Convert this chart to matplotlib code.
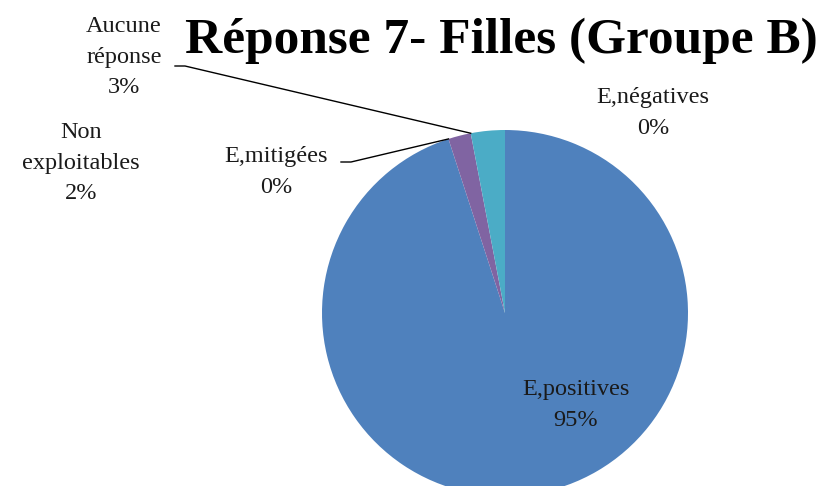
import numpy as np
import matplotlib
matplotlib.use("Agg")
import matplotlib.pyplot as plt
from matplotlib.lines import Line2D

categories = ["E,positives", "E,négatives", "E,mitigées", "Non\nexploitables", "Aucune\nréponse"]
values = [95, 0, 0, 2, 3]
pct_labels = ["95%", "0%", "0%", "2%", "3%"]
colors = ["#4F81BD", "#C0504D", "#9BBB59", "#8064A2", "#4BACC6"]
title = "Réponse 7- Filles (Groupe B)"

W, H = 824, 486
fig = plt.figure(figsize=(W / 100, H / 100), dpi=100)
fig.patch.set_facecolor("white")

# pie placement in pixels (from top-left)
cx, cy, R = 505, 313, 183
ax = fig.add_axes([(cx - R) / W, (H - cy - R) / H, 2 * R / W, 2 * R / H])
wedges, _ = ax.pie(values, colors=colors, startangle=90, counterclock=False,
                   radius=1.0, wedgeprops=dict(linewidth=0))
ax.set_xlim(-1, 1)
ax.set_ylim(-1, 1)
ax.set_aspect("equal")
ax.axis("off")

serif = ["Liberation Serif", "DejaVu Serif"]
fs = 17.5

def figpx(x, y):
    return (x / W, (H - y) / H)

label_pos = {
    0: (576, 405),
    1: (653, 113),
    2: (276, 172),
    3: (81, 163),
    4: (124, 57),
}
for i, (cat, p) in enumerate(zip(categories, pct_labels)):
    x, y = label_pos[i]
    fig.text(*figpx(x, y), f"{cat}\n{p}", ha="center", va="center",
             fontsize=fs, family=serif, linespacing=1.6, color="#1a1a1a")

# leader lines to wedge edges
def edge_at(theta_deg):
    th = np.deg2rad(theta_deg)
    return cx + R * np.cos(th), cy - R * np.sin(th)

w_aucune = wedges[4]
w_mit = wedges[2]
leaders = [
    ((175, 66), max(w_aucune.theta1, w_aucune.theta2)),
    ((341, 162), w_mit.theta1),
]
for (lx, ly), th in leaders:
    ex, ey = edge_at(th)
    xs = [lx, lx + 10, ex]
    ys = [ly, ly, ey]
    fig.add_artist(Line2D([x / W for x in xs], [(H - y) / H for y in ys],
                          color="black", linewidth=1.0, transform=fig.transFigure))

fig.text(*figpx(501, 53), title, ha="center", va="baseline", fontsize=37,
         fontweight="bold", family=serif, color="black")

fig.savefig("out.png", dpi=100, facecolor="white")
